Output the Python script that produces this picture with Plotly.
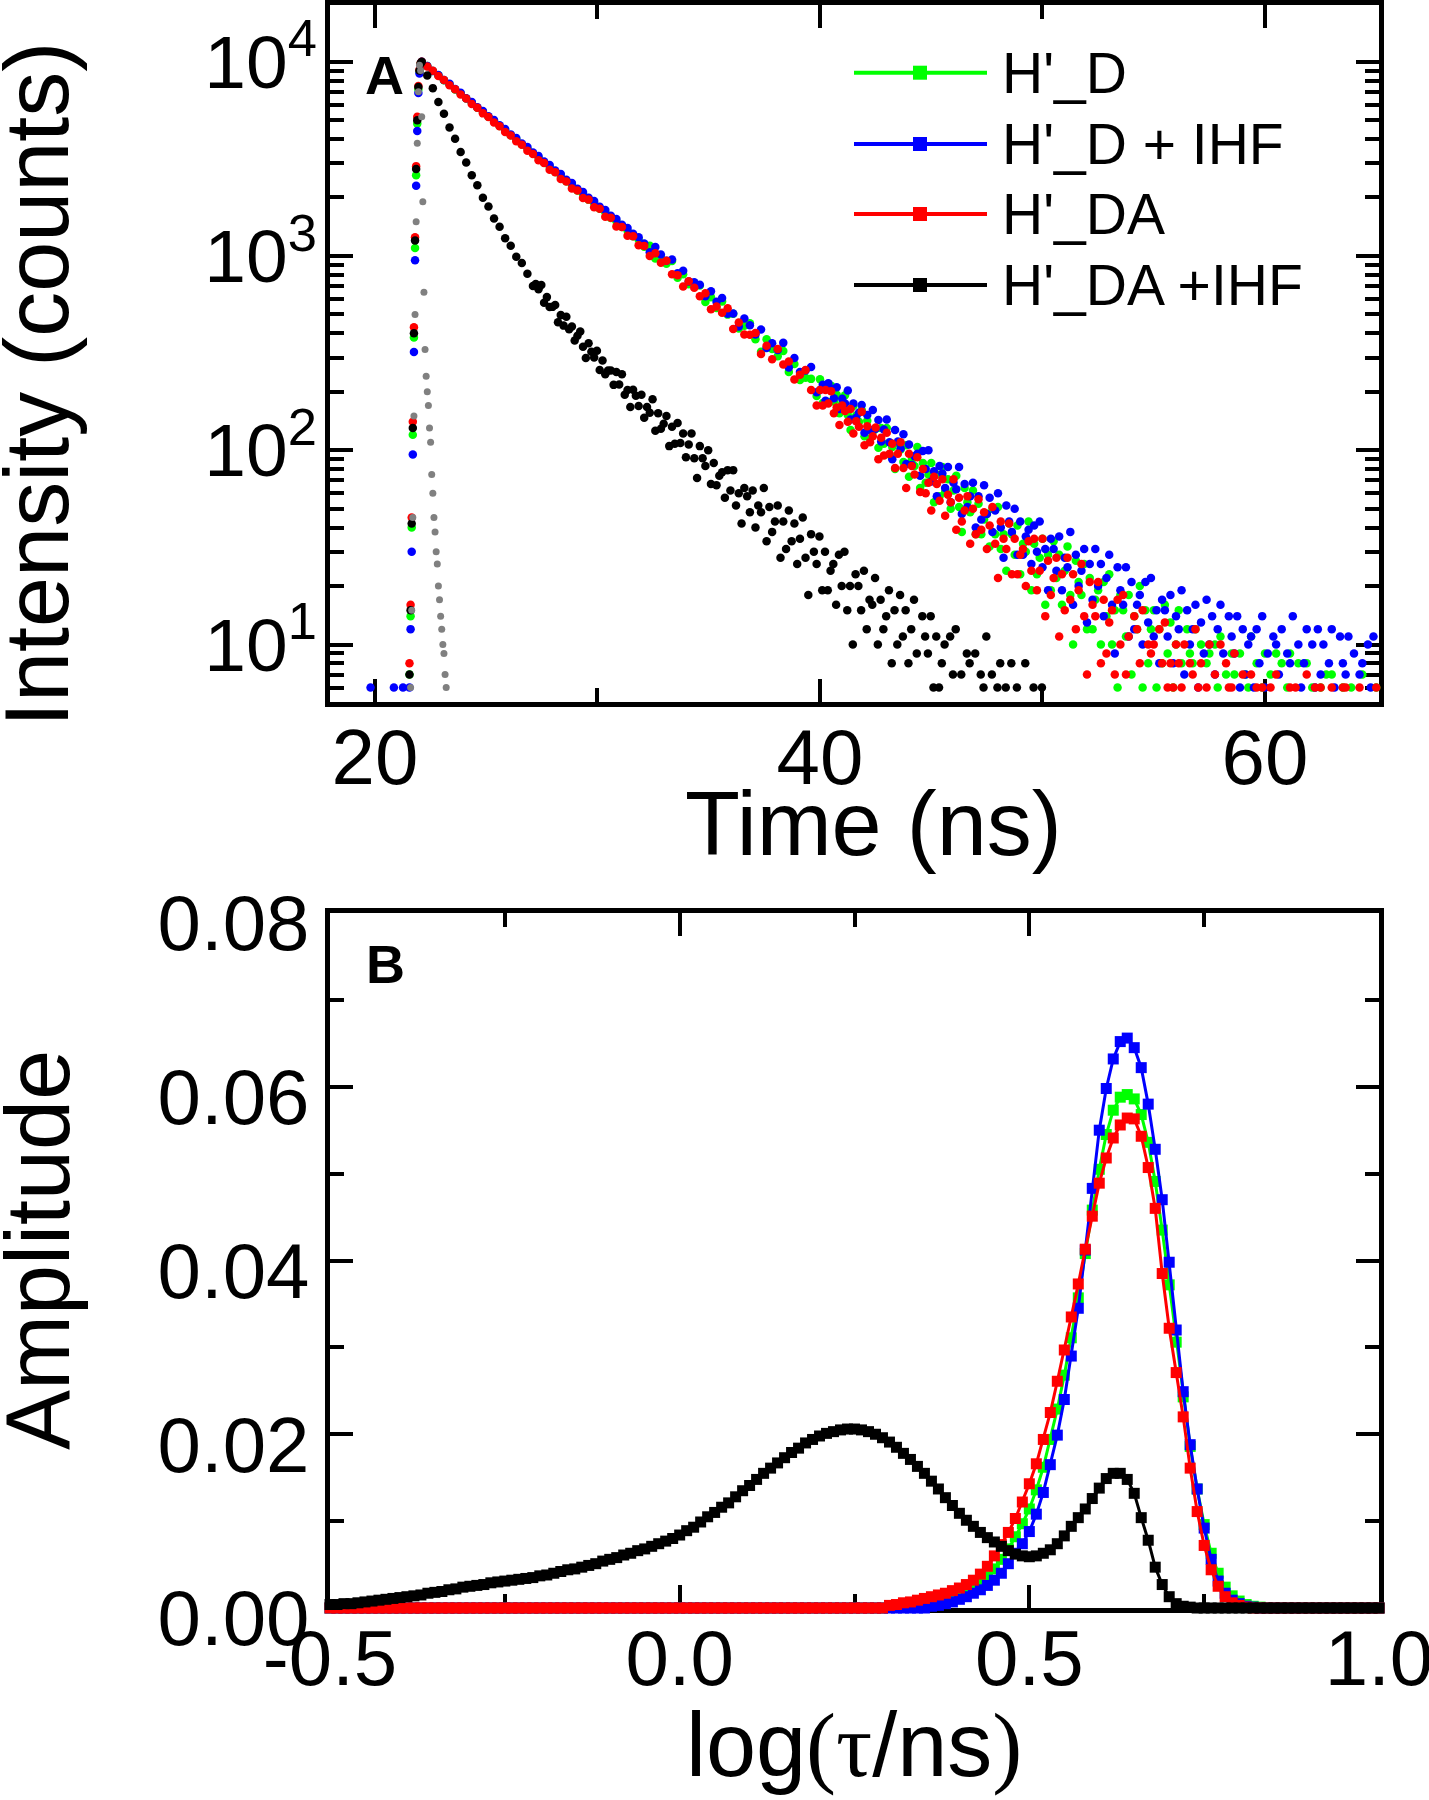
import plotly.graph_objects as go

FONT = "Liberation Sans, Arial, sans-serif"

# ---------------- Panel A: fluorescence decay curves (counts) ----------------
series_names = ["H'_D", "H'_D + IHF", "H'_DA", "H'_DA +IHF"]

# rising edge (shared channel times)
edge_t = [21.55, 21.60, 21.65, 21.70, 21.75, 21.80, 21.85, 21.90, 21.95, 22.00, 22.05]
green_edge = [7, 14, 40, 120, 380, 1100, 2600, 4800, 7200, 8900, 9700]
blue_edge = [6, 12, 30, 95, 320, 950, 2300, 4400, 6900, 8700, 9600]
red_edge = [8, 16, 45, 140, 430, 1250, 2900, 5200, 7500, 9100, 9800]
black_edge = [7, 15, 42, 130, 400, 1200, 2800, 5000, 7400, 9000, 9800]

blue_pre_t = [19.8, 20.85, 21.26]
blue_pre = [6, 6, 6]

# early decay: channels every 0.25 ns starting at the peak
early_t0 = 22.1
early_dt = 0.25
# late decay: channels every 0.125 ns
late_dt = 0.125
late_t0_rgb = 40.0
late_t0_black = 27.1

green_early = [
    9900, 9490, 8950, 8520, 8030, 7650, 7200, 6860, 6460, 6150,
    5790, 5520, 5200, 4955, 4665, 4445, 4185, 3990, 3750, 3580,
    3365, 3215, 3015, 2885, 2705, 2590, 2425, 2325, 2175, 2085,
    1950, 1872, 1750, 1680, 1568, 1508, 1408, 1352, 1262, 1214,
    1116, 1130, 971, 979, 913, 941, 772, 805, 715, 704,
    705, 579, 613, 539, 583, 499, 504, 423, 437, 451,
    373, 321, 373, 332, 305, 324, 253, 278, 230, 236,
    233, 190,
]
green_late = [
    232, 175, 208, 177, 215, 178, 193, 155,
    174, 192, 152, 127, 169, 151, 140, 161,
    118, 142, 115, 125, 129, 103, 130, 108,
    130, 95, 104, 80, 109, 101, 87, 106,
    73, 89, 83, 104, 64, 86, 68, 75,
    86, 54, 75, 58, 82, 61, 71, 50,
    62, 74, 51, 38, 64, 54, 48, 62,
    37, 53, 37, 44, 47, 32, 50, 37,
    51, 31, 37, 24, 42, 37, 29, 41,
    23, 33, 30, 43, 19, 33, 23, 28,
    35, 16, 29, 19, 34, 22, 29, 16,
    24, 32, 18, 10, 27, 21, 18, 26,
    12, 22, 12, 17, 19, 10, 21, 14,
    23, 10, 15, 6, 18, 15, 11, 18,
    7, 14, 12, 20, 6, 15, 8, 12,
    15, 6, 12, 8, 16, 9, 13, 6,
    10, 15, 8, 5, 12, 9, 8, 12,
    5, 10, 5, 8, 9, 5, 10, 6,
    11, 5, 7, None, 9, 7, 5, 9,
    None, 7, 6, 11, None, 8, None, 6,
    9, None, 7, None, 9, 5, 8, None,
    6, 9, None, None, 8, 5, None, 8,
    None, 6, None, 5, 6, None, 7, None,
    7, None, 5, None, 6, 5, None, 6,
    None, None, None, 7, None, 5, None, None,
    6,
]

blue_early = [
    10000, 9500, 8960, 8550, 8050, 7690, 7230, 6910, 6490, 6210,
    5830, 5580, 5240, 5010, 4705, 4505, 4225, 4050, 3795, 3640,
    3410, 3270, 3060, 2940, 2750, 2640, 2470, 2375, 2220, 2135,
    1995, 1918, 1792, 1724, 1610, 1550, 1446, 1392, 1300, 1250,
    1160, 1045, 1111, 1017, 946, 959, 814, 840, 739, 732,
    710, 620, 658, 581, 607, 504, 505, 433, 476, 440,
    394, 418, 336, 355, 328, 357, 267, 298, 253, 257,
    268, 199,
]
blue_late = [
    204, 217, 180, 221, 207, 185, 211, 163,
    184, 174, 203, 144, 174, 147, 156, 171,
    123, 152, 127, 161, 129, 143, 111, 128,
    144, 110, 90, 127, 111, 102, 121, 85,
    107, 84, 93, 96, 74, 99, 80, 100,
    69, 78, 58, 83, 76, 64, 82, 54,
    68, 63, 82, 47, 67, 51, 58, 68,
    40, 58, 44, 66, 47, 57, 38, 49,
    60, 40, 28, 52, 43, 38, 50, 29,
    43, 29, 36, 39, 26, 41, 30, 43,
    25, 31, 19, 35, 31, 24, 36, 19,
    28, 25, 38, 16, 29, 20, 24, 31,
    13, 26, 17, 31, 20, 26, 14, 22,
    29, 16, 9, 25, 19, 16, 25, 11,
    21, 12, 16, 18, 10, 21, 13, 22,
    11, 15, 8, 17, 15, 11, 18, 8,
    14, 12, 19, 7, 15, 10, 12, 16,
    6, 13, 9, 17, 10, 14, 7, 12,
    16, 9, 5, 14, 11, 9, 14, 6,
    12, 7, 10, 11, 6, 12, 8, 14,
    6, 9, None, 11, 10, 7, 12, 5,
    9, 8, 14, None, 10, 6, 8, 12,
    None, 10, 6, 12, 7, 10, 5, 8,
    12, 6, None, 11, 8, 7, 11, None,
    9, 5, 7, 8, None, 10, 6, 11,
    5,
]

red_early = [
    10000, 9440, 8990, 8450, 8060, 7560, 7220, 6770, 6470, 6060,
    5800, 5420, 5190, 4860, 4650, 4350, 4170, 3890, 3740, 3480,
    3350, 3110, 3010, 2780, 2700, 2490, 2420, 2225, 2170, 1990,
    1950, 1780, 1750, 1590, 1575, 1420, 1410, 1270, 1265, 1135,
    1127, 999, 1033, 924, 946, 806, 796, 696, 741, 687,
    620, 642, 532, 549, 510, 538, 421, 454, 394, 393,
    401, 313, 345, 294, 332, 276, 286, 231, 245, 259,
    204, 170,
]
red_late = [
    204, 170, 204, 174, 201, 155, 166, 135,
    170, 159, 140, 163, 122, 141, 132, 158,
    106, 133, 110, 118, 131, 90, 116, 94,
    123, 96, 108, 81, 96, 110, 81, 64,
    96, 83, 75, 92, 61, 80, 60, 68,
    49, 73, 67, 55, 71, 46, 59, 54,
    71, 39, 57, 43, 49, 58, 33, 50,
    37, 56, 39, 48, 31, 41, 51, 33,
    22, 43, 35, 31, 42, 23, 35, 23,
    29, 31, 20, 34, 24, 35, 19, 24,
    35, 14, 27, 18, 22, 28, 11, 23,
    15, 28, 17, 23, 12, 19, 26, 14,
    7, 21, 16, 14, 21, 8, 17, 9,
    13, 15, 7, 17, 10, 18, 7, 11,
    5, 14, 12, 8, 15, 5, 10, 9,
    10, 5, 12, 8, 13, 6, 8, 6,
    10, 8, 6, 10, 5, 8, 7, 12,
    6, 8, 5, 6, 10, 5, 7, 5,
    10, 5, 8, 6, 6, 9, 5, None,
    7, 5, None, 7, 5, 6, None, 6,
    5, None, 6, 5, 7, None, 5, None,
    5, 6, None, 6, 5, None, 5, 7,
    None, 5, 6, None, 6, None, 5, None,
    6, 5, 5, None, 6, 6, None, 5,
    5, None, 6, 5, None, 5, None, 5,
    6,
]

black_early = [
    10000, 8490, 7310, 6210, 5390, 4590, 4010, 3430, 3030, 2600,
    2315, 1995, 1795, 1560, 1415, 1235, 1130, 990, 920, 810,
]
black_late = [
    701, 718, 674, 709, 574, 614, 546, 547,
    559, 456, 496, 438, 487, 420, 434, 367,
    388, 409, 341, 298, 355, 321, 300, 325,
    259, 290, 246, 257, 257, 217, 253, 218,
    246, 193, 204, 167, 205, 191, 169, 193,
    147, 167, 156, 183, 126, 155, 129, 137,
    150, 105, 132, 108, 138, 109, 122, 92,
    107, 122, 91, 72, 105, 91, 83, 100,
    67, 86, 66, 74, 77, 57, 79, 62,
    79, 52, 60, 42, 64, 58, 48, 62,
    40, 52, 48, 64, 34, 51, 38, 43,
    52, 28, 43, 31, 49, 34, 42, 26,
    35, 45, 28, 18, 37, 30, 26, 36,
    19, 30, 19, 24, 26, 16, 29, 20,
    30, 15, 20, 10, 23, 20, 15, 24,
    12, 17, 16, 22, 10, 17, 12, 14,
    19, 8, 15, 10, 18, 11, 15, 8,
    12, 17, 9, 5, 14, 11, 9, 14,
    6, 11, 6, 8, 10, 5, 11, 7,
    12, 5, 7, None, 9, 8, 5, 9,
    None, 7, 6, 11, None, 7, None, 6,
    8, None, 6, None, 8, 5, 6, None,
    5, 8, None, None, 6, None, None, 6,
    None, 5, None, None, None, None, 5,
]

irf_t = [21.60, 21.65, 21.70, 21.75, 21.80, 21.85, 21.90, 21.95, 22.00, 22.05,
         22.10, 22.15, 22.20, 22.25, 22.30, 22.35, 22.40, 22.45, 22.50, 22.55,
         22.60, 22.65, 22.70, 22.75, 22.80, 22.85, 22.90, 22.95, 23.00, 23.05,
         23.10, 23.15, 23.20, 23.25]
irf_counts = [6, 15, 45, 150, 500, 1500, 3800, 7000, 9600, 9000,
              5200, 1900, 650, 330, 240, 200, 170, 130, 110, 75,
              60, 45, 38, 30, 26, 20, 17, 14, 12, 10,
              9, 7, 6, 5]

# ---------------- Panel B: lifetime distributions ----------------
logtau_start = -0.5
logtau_step = 0.01

amp_green = [
    0, 0, 0, 0, 0, 0, 0, 0, 0, 0,
    0, 0, 0, 0, 0, 0, 0, 0, 0, 0,
    0, 0, 0, 0, 0, 0, 0, 0, 0, 0,
    0, 0, 0, 0, 0, 0, 0, 0, 0, 0,
    0, 0, 0, 0, 0, 0, 0, 0, 0, 0,
    0, 0, 0, 0, 0, 0, 0, 0, 0, 0,
    0, 0, 0, 0, 0, 0, 0, 0, 0, 0,
    0, 0, 0, 0, 0, 0, 0, 0, 0, 0,
    0.0001, 0.0001, 0.0002, 0.0002, 0.0003, 0.0004, 0.0005, 0.0007, 0.0009, 0.0012,
    0.0015, 0.0019, 0.0024, 0.0029, 0.0036, 0.0045, 0.0056, 0.0068, 0.0082, 0.0097,
    0.0114, 0.0136, 0.0162, 0.0194, 0.0229, 0.0268, 0.0311, 0.0357, 0.0408, 0.0458,
    0.0505, 0.0545, 0.0573, 0.0588, 0.0591, 0.0586, 0.0568, 0.0536, 0.0491, 0.0435,
    0.0372, 0.0306, 0.0243, 0.0186, 0.0137, 0.0096, 0.0063, 0.0040, 0.0024, 0.0014,
    0.0008, 0.0004, 0.0002, 0.0001, 0, 0, 0, 0, 0, 0,
    0, 0, 0, 0, 0, 0, 0, 0, 0, 0,
    0,
]

amp_blue = [
    0, 0, 0, 0, 0, 0, 0, 0, 0, 0,
    0, 0, 0, 0, 0, 0, 0, 0, 0, 0,
    0, 0, 0, 0, 0, 0, 0, 0, 0, 0,
    0, 0, 0, 0, 0, 0, 0, 0, 0, 0,
    0, 0, 0, 0, 0, 0, 0, 0, 0, 0,
    0, 0, 0, 0, 0, 0, 0, 0, 0, 0,
    0, 0, 0, 0, 0, 0, 0, 0, 0, 0,
    0, 0, 0, 0, 0, 0, 0, 0, 0, 0,
    0, 0, 0, 0, 0, 0, 0.0002, 0.0003, 0.0005, 0.0007,
    0.0010, 0.0013, 0.0017, 0.0021, 0.0026, 0.0032, 0.0040, 0.0051, 0.0063, 0.0074,
    0.0088, 0.0108, 0.0133, 0.0165, 0.0199, 0.0240, 0.0290, 0.0345, 0.0412, 0.0483,
    0.0550, 0.0598, 0.0632, 0.0652, 0.0656, 0.0645, 0.0622, 0.0580, 0.0528, 0.0470,
    0.0398, 0.0320, 0.0249, 0.0188, 0.0137, 0.0092, 0.0056, 0.0031, 0.0017, 0.0009,
    0.0005, 0.0002, 0.0001, 0, 0, 0, 0, 0, 0, 0,
    0, 0, 0, 0, 0, 0, 0, 0, 0, 0,
    0,
]

amp_red = [
    0, 0, 0, 0, 0, 0, 0, 0, 0, 0,
    0, 0, 0, 0, 0, 0, 0, 0, 0, 0,
    0, 0, 0, 0, 0, 0, 0, 0, 0, 0,
    0, 0, 0, 0, 0, 0, 0, 0, 0, 0,
    0, 0, 0, 0, 0, 0, 0, 0, 0, 0,
    0, 0, 0, 0, 0, 0, 0, 0, 0, 0,
    0, 0, 0, 0, 0, 0, 0, 0, 0, 0,
    0, 0, 0, 0, 0, 0, 0, 0, 0, 0,
    0.0003, 0.0004, 0.0006, 0.0007, 0.0009, 0.0011, 0.0013, 0.0015, 0.0017, 0.0020,
    0.0023, 0.0027, 0.0032, 0.0039, 0.0048, 0.0060, 0.0073, 0.0087, 0.0103, 0.0122,
    0.0143, 0.0166, 0.0194, 0.0225, 0.0261, 0.0297, 0.0335, 0.0373, 0.0413, 0.0451,
    0.0489, 0.0518, 0.0541, 0.0556, 0.0564, 0.0563, 0.0543, 0.0507, 0.0460, 0.0385,
    0.0322, 0.0271, 0.0220, 0.0161, 0.0111, 0.0072, 0.0044, 0.0025, 0.0013, 0.0006,
    0.0003, 0.0001, 0, 0, 0, 0, 0, 0, 0, 0,
    0, 0, 0, 0, 0, 0, 0, 0, 0, 0,
    0,
]

amp_black = [
    0.0004, 0.0004, 0.0005, 0.0005, 0.0006, 0.0007, 0.0008, 0.0009, 0.0010, 0.0011,
    0.0012, 0.0013, 0.0014, 0.0015, 0.0017, 0.0018, 0.0019, 0.0021, 0.0022, 0.0024,
    0.0025, 0.0026, 0.0027, 0.0029, 0.0030, 0.0031, 0.0032, 0.0033, 0.0034, 0.0035,
    0.0037, 0.0038, 0.0040, 0.0042, 0.0044, 0.0045, 0.0047, 0.0049, 0.0051, 0.0054,
    0.0056, 0.0058, 0.0061, 0.0063, 0.0066, 0.0068, 0.0071, 0.0074, 0.0077, 0.0080,
    0.0084, 0.0089, 0.0093, 0.0099, 0.0105, 0.0110, 0.0116, 0.0121, 0.0128, 0.0135,
    0.0141, 0.0148, 0.0155, 0.0161, 0.0167, 0.0173, 0.0179, 0.0184, 0.0190, 0.0194,
    0.0198, 0.0201, 0.0203, 0.0205, 0.0206, 0.0206, 0.0205, 0.0203, 0.0200, 0.0196,
    0.0191, 0.0185, 0.0178, 0.0171, 0.0163, 0.0155, 0.0146, 0.0137, 0.0127, 0.0118,
    0.0109, 0.0101, 0.0094, 0.0087, 0.0081, 0.0076, 0.0071, 0.0066, 0.0062, 0.0060,
    0.0059, 0.0060, 0.0063, 0.0067, 0.0074, 0.0083, 0.0094, 0.0104, 0.0114, 0.0126,
    0.0138, 0.0149, 0.0155, 0.0155, 0.0148, 0.0132, 0.0104, 0.0078, 0.0047, 0.0027,
    0.0013, 0.0005, 0.0002, 0.0001, 0, 0, 0, 0, 0, 0,
    0, 0, 0, 0, 0, 0, 0, 0, 0, 0,
    0, 0, 0, 0, 0, 0, 0, 0, 0, 0,
    0,
]

colors = ["#00FF00", "#0000FF", "#FF0000", "#000000"]
irf_color = "#808080"

# ---------------- geometry helpers (pixel -> paper) ----------------
W, H = 1429, 1800
ML, MR, MT, MB = 330, 50, 5, 192
PW = W - ML - MR
PH = H - MT - MB


def pxx(px):
    return (px - ML) / PW


def pxy(py):
    return (H - MB - py) / PH


top_domain = [pxy(702), 1.0]
bot_domain = [0.0, pxy(913)]


def channel_times(t0, dt, n):
    return [t0 + dt * k for k in range(n)]


fig = go.Figure()

top_sets = [
    (edge_t + channel_times(early_t0, early_dt, len(green_early))
     + channel_times(late_t0_rgb, late_dt, len(green_late)),
     green_edge + green_early + green_late),
    (blue_pre_t + edge_t + channel_times(early_t0, early_dt, len(blue_early))
     + channel_times(late_t0_rgb, late_dt, len(blue_late)),
     blue_pre + blue_edge + blue_early + blue_late),
    (edge_t + channel_times(early_t0, early_dt, len(red_early))
     + channel_times(late_t0_rgb, late_dt, len(red_late)),
     red_edge + red_early + red_late),
    (edge_t + channel_times(early_t0, early_dt, len(black_early))
     + channel_times(late_t0_black, late_dt, len(black_late)),
     black_edge + black_early + black_late),
]
for (tx, ty), name, col in zip(top_sets, series_names, colors):
    fig.add_trace(go.Scatter(
        x=tx, y=ty, name=name, mode="markers",
        marker=dict(color=col, size=8.5, line=dict(width=0)),
        xaxis="x", yaxis="y", cliponaxis=False, showlegend=False))

fig.add_trace(go.Scatter(
    x=irf_t, y=irf_counts, name="IRF", mode="markers",
    marker=dict(color=irf_color, size=7, line=dict(width=0)),
    xaxis="x", yaxis="y", cliponaxis=False, showlegend=False))

logtau = [round(logtau_start + logtau_step * i, 2) for i in range(len(amp_black))]
for amp, name, col in zip([amp_green, amp_blue, amp_red, amp_black], series_names, colors):
    fig.add_trace(go.Scatter(
        x=logtau, y=amp, name=name, mode="lines+markers",
        line=dict(color=col, width=3),
        marker=dict(color=col, size=11, symbol="square", line=dict(width=0)),
        xaxis="x2", yaxis="y2", cliponaxis=False, showlegend=False))

# ---------------- axes ----------------
tickfont = dict(family=FONT, size=78, color="black")
common = dict(showline=True, linewidth=5, linecolor="black", mirror="allticks",
              ticks="inside", ticklen=23, tickwidth=4, tickcolor="black",
              showgrid=False, zeroline=False, layer="below traces",
              automargin=False, ticklabeloverflow="allow")
minor = dict(ticks="inside", ticklen=14, tickwidth=4, tickcolor="black", showgrid=False)

log_minor_vals = [m * 10 ** e for e in range(0, 5) for m in range(2, 10)]

fig.update_layout(
    xaxis=dict(domain=[0, 1], anchor="y", range=[17.978, 65.124],
               tickmode="array", tickvals=[20, 40, 60], ticktext=["20", "40", "60"],
               minor=dict(minor, tickmode="array", tickvals=[30, 50]),
               ticklabelstandoff=-17, tickfont=tickfont, **common),
    yaxis=dict(domain=top_domain, anchor="x", type="log", range=[0.7041, 4.2918],
               tickmode="array", tickvals=[10, 100, 1000, 10000],
               ticktext=["10<sup>1</sup>", "10<sup>2</sup>", "10<sup>3</sup>", "10<sup>4</sup>"],
               minor=dict(minor, tickmode="array", tickvals=log_minor_vals),
               ticklabelstandoff=-7, tickfont=dict(tickfont, size=75), **common),
    xaxis2=dict(domain=[0, 1], anchor="y2", range=[-0.5, 1.0],
                tickmode="array", tickvals=[-0.5, 0.0, 0.5, 1.0],
                ticktext=["-0.5", "0.0", "0.5", "1.0"],
                minor=dict(minor, tickmode="array", tickvals=[-0.25, 0.25, 0.75]),
                ticklabelstandoff=-22, tickfont=tickfont, **common),
    yaxis2=dict(domain=bot_domain, anchor="x2", range=[0, 0.08],
                tickmode="array", tickvals=[0, 0.02, 0.04, 0.06, 0.08],
                ticktext=["0.00", "0.02", "0.04", "0.06", "0.08"],
                minor=dict(minor, tickmode="array", tickvals=[0.01, 0.03, 0.05, 0.07]),
                ticklabelstandoff=0, ticklabelshift=10, tickfont=tickfont, **common),
)

# ---------------- titles, panel labels, legend ----------------
annotations = []
title_font = dict(family=FONT, size=90, color="black")
annotations.append(dict(text="Time (ns)", x=pxx(873), y=pxy(824), xref="paper", yref="paper",
                        xanchor="center", yanchor="middle", showarrow=False, font=title_font))
annotations.append(dict(
    text='log<span style="font-family:Liberation Serif">(τ</span>/ns'
         '<span style="font-family:Liberation Serif">)</span>',
    x=pxx(854), y=pxy(1745), xref="paper", yref="paper",
    xanchor="center", yanchor="middle", showarrow=False, font=title_font))
annotations.append(dict(text="Intensity (counts)", x=pxx(37), y=pxy(385), xref="paper", yref="paper",
                        xanchor="center", yanchor="middle", textangle=-90, showarrow=False,
                        font=title_font))
annotations.append(dict(text="Amplitude", x=pxx(38), y=pxy(1250), xref="paper", yref="paper",
                        xanchor="center", yanchor="middle", textangle=-90, showarrow=False,
                        font=title_font))
label_font = dict(family=FONT, size=54, color="black")
annotations.append(dict(text="<b>A</b>", x=pxx(384), y=pxy(75), xref="paper", yref="paper",
                        xanchor="center", yanchor="middle", showarrow=False, font=label_font))
annotations.append(dict(text="<b>B</b>", x=pxx(385), y=pxy(964), xref="paper", yref="paper",
                        xanchor="center", yanchor="middle", showarrow=False, font=label_font))

shapes = []
legend_rows = [72.7, 144, 214, 285]
legend_font = dict(family=FONT, size=57, color="black")
for row, name, col in zip(legend_rows, series_names, colors):
    shapes.append(dict(type="line", xref="paper", yref="paper",
                       x0=pxx(854), x1=pxx(987), y0=pxy(row), y1=pxy(row),
                       line=dict(color=col, width=4)))
    shapes.append(dict(type="rect", xref="paper", yref="paper",
                       x0=pxx(913), x1=pxx(927), y0=pxy(row + 7), y1=pxy(row - 7),
                       fillcolor=col, line=dict(width=0)))
    annotations.append(dict(text=name, x=pxx(1000), y=pxy(row), xref="paper", yref="paper",
                            xanchor="left", yanchor="middle", showarrow=False, font=legend_font))

fig.update_layout(
    width=W, height=H,
    margin=dict(l=ML, r=MR, t=MT, b=MB, pad=0, autoexpand=False),
    paper_bgcolor="white", plot_bgcolor="white",
    showlegend=False, annotations=annotations, shapes=shapes,
    font=dict(family=FONT, color="black"),
)

fig.write_html("out.html", config={"displayModeBar": False},
               post_script="document.body.style.margin='0px';")
